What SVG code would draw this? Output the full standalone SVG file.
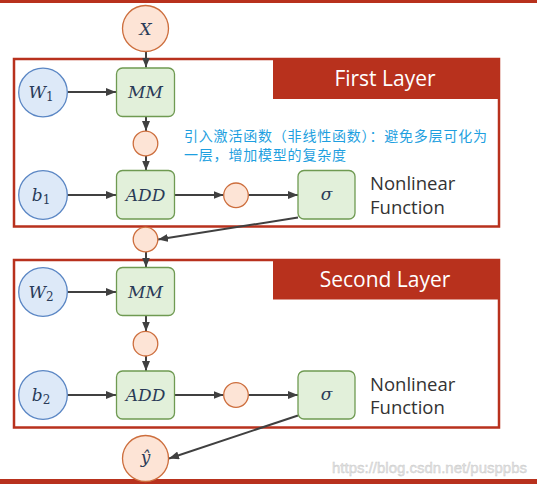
<svg xmlns="http://www.w3.org/2000/svg" width="537" height="484" viewBox="0 0 537 484">
<style>
.orange{fill:#fde4d6;stroke:#cd6e3d;stroke-width:1.3}
.blue{fill:#dde9f8;stroke:#5a86c4;stroke-width:1.3}
.green{fill:#e2f0da;stroke:#6f9a52;stroke-width:1.3}
.layer{fill:none;stroke:#b8311d;stroke-width:2.5}
.banner{fill:#b8311d}
.title{font-family:"Open Sans","Noto Sans",sans-serif;font-size:21px;fill:#ffffff;text-anchor:middle}
.math{font-family:"DejaVu Serif","Liberation Serif",serif;font-style:italic;font-size:17px;fill:#2a3b58;text-anchor:middle}
.sub{font-style:normal;font-size:12px}
.side{font-family:"Open Sans","Noto Sans",sans-serif;font-size:18.5px;fill:#333333}
.note{font-family:"Noto Sans CJK SC","Noto Sans",sans-serif;font-size:14px;letter-spacing:0.8px;fill:#1e9fe0}
.conn{stroke:#404040;stroke-width:2;fill:none;marker-end:url(#arr)}
.wm{font-family:"Liberation Sans","DejaVu Sans",sans-serif;font-size:15px;fill:#e4e4e4;stroke:#c8c8c8;stroke-width:0.4}
</style>
<defs>
<marker id="arr" markerUnits="userSpaceOnUse" markerWidth="10" markerHeight="8" refX="10" refY="4" orient="auto">
<path d="M0,0 L10,4 L0,8 z" fill="#404040"/>
</marker>
</defs>
<rect width="537" height="484" fill="#ffffff"/>
<rect x="0" y="0" width="537" height="3" fill="#b8311d"/>
<rect x="0" y="479" width="537" height="5" fill="#b8311d"/>

<g id="layer1">
<rect class="layer" x="14" y="59" width="485" height="167.5"/>
<rect class="banner" x="273" y="59" width="225" height="40"/>
<text class="title" x="385" y="86">First Layer</text>
</g>
<g id="layer2">
<rect class="layer" x="14" y="260" width="485" height="167.5"/>
<rect class="banner" x="273" y="260" width="225" height="39.5"/>
<text class="title" x="385" y="287">Second Layer</text>
</g>

<g id="connectors">
<line class="conn" x1="146" y1="52" x2="146" y2="67.5"/>
<line class="conn" x1="67.5" y1="92" x2="116" y2="92"/>
<line class="conn" x1="146" y1="116.5" x2="146" y2="131"/>
<line class="conn" x1="146" y1="156" x2="146" y2="170.5"/>
<line class="conn" x1="67.5" y1="195" x2="116" y2="195"/>
<line class="conn" x1="175" y1="195" x2="223.5" y2="195"/>
<line class="conn" x1="248.5" y1="195" x2="298" y2="195"/>
<line class="conn" x1="298" y1="217.5" x2="158" y2="239.5"/>
<line class="conn" x1="146" y1="252" x2="146" y2="267.5"/>
<line class="conn" x1="67.5" y1="292" x2="116" y2="292"/>
<line class="conn" x1="146" y1="315.5" x2="146" y2="331.5"/>
<line class="conn" x1="146" y1="356" x2="146" y2="371"/>
<line class="conn" x1="67.5" y1="395" x2="116" y2="395"/>
<line class="conn" x1="175" y1="395" x2="223.5" y2="395"/>
<line class="conn" x1="248.5" y1="395" x2="298" y2="395"/>
<line class="conn" x1="298" y1="415.5" x2="169" y2="458.5"/>
</g>

<g id="X"><circle class="orange" cx="145.5" cy="28.5" r="23"/><text class="math" x="145.5" y="34.5">X</text></g>
<g id="W1"><circle class="blue" cx="43" cy="92.5" r="24.3"/><text class="math" x="41" y="98">W<tspan class="sub" dy="3">1</tspan></text></g>
<g id="MM1"><rect class="green" x="116.5" y="68" width="58" height="48.5" rx="6"/><text class="math" x="145.5" y="98">MM</text></g>
<g id="h1"><circle class="orange" cx="145.5" cy="143.5" r="12.3"/></g>
<g id="b1"><circle class="blue" cx="43" cy="195" r="24.3"/><text class="math" x="41" y="200.5">b<tspan class="sub" dy="3">1</tspan></text></g>
<g id="ADD1"><rect class="green" x="116.5" y="170.5" width="58" height="48.5" rx="6"/><text class="math" x="145.5" y="200.5">ADD</text></g>
<g id="z1"><circle class="orange" cx="236" cy="195.3" r="12.3"/></g>
<g id="sigma1"><rect class="green" x="298" y="170.5" width="57" height="48.5" rx="6"/><text class="math" x="326.5" y="200">σ</text></g>
<g id="nl1"><text class="side" x="370" y="190">Nonlinear</text><text class="side" x="370" y="214">Function</text></g>
<g id="note"><text class="note" x="184" y="141">引入激活函数（非线性函数）：避免多层可化为</text><text class="note" x="184" y="160">一层，增加模型的复杂度</text></g>

<g id="h2in"><circle class="orange" cx="145.5" cy="239.5" r="12.3"/></g>
<g id="W2"><circle class="blue" cx="43" cy="292" r="24.3"/><text class="math" x="41" y="297.5">W<tspan class="sub" dy="3">2</tspan></text></g>
<g id="MM2"><rect class="green" x="116.5" y="267.5" width="58" height="48" rx="6"/><text class="math" x="145.5" y="297.5">MM</text></g>
<g id="h2"><circle class="orange" cx="145.5" cy="343.7" r="12.3"/></g>
<g id="b2"><circle class="blue" cx="43" cy="395" r="24.3"/><text class="math" x="41" y="400.5">b<tspan class="sub" dy="3">2</tspan></text></g>
<g id="ADD2"><rect class="green" x="116.5" y="371" width="58" height="48" rx="6"/><text class="math" x="145.5" y="400.5">ADD</text></g>
<g id="z2"><circle class="orange" cx="236" cy="395" r="12.3"/></g>
<g id="sigma2"><rect class="green" x="298" y="371" width="57" height="48" rx="6"/><text class="math" x="326.5" y="400">σ</text></g>
<g id="nl2"><text class="side" x="370" y="391">Nonlinear</text><text class="side" x="370" y="414">Function</text></g>
<g id="yhat"><circle class="orange" cx="145.5" cy="458.5" r="23"/><text class="math" x="145.5" y="463">ŷ</text></g>

<text class="wm" x="332" y="473" textLength="195" lengthAdjust="spacingAndGlyphs">https://blog.csdn.net/pusppbs</text>
</svg>
